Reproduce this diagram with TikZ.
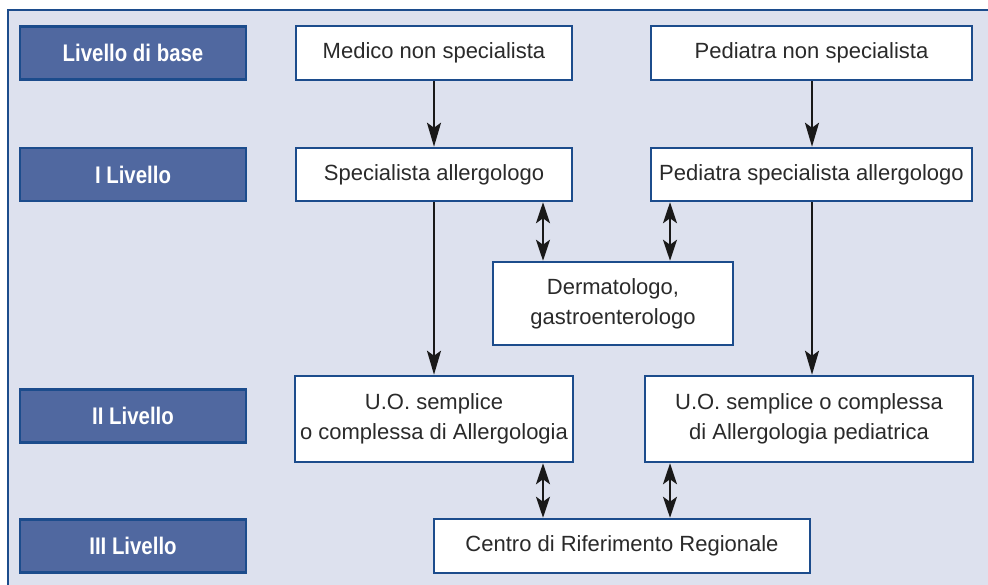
\documentclass[tikz,border=0pt]{standalone}
\usepackage{fontspec}
\setmainfont{Liberation Sans}
\newfontfamily\lvlfont{Liberation Sans}[FakeStretch=0.85]
\usetikzlibrary{arrows.meta}
\definecolor{bgc}{HTML}{DDE1EE}
\definecolor{frameblue}{HTML}{1C4C8C}
\definecolor{lvlfill}{HTML}{5068A0}
\definecolor{txt}{HTML}{2A2A2A}
\tikzset{
  lvl/.style={draw=frameblue, fill=lvlfill, line width=2.5pt, text=white,
    font=\lvlfont\bfseries\fontsize{24}{28}\selectfont, minimum width=226pt, minimum height=53pt, inner sep=0pt},
  box/.style={draw=frameblue, fill=white, line width=2.5pt, text=txt, align=center,
    font=\fontsize{22}{30}\selectfont, inner sep=0pt},
  arr/.style={line width=2.3pt, draw=black!90, -{Stealth[length=24pt,width=14pt,inset=5pt]}},
  darr/.style={line width=2.3pt, draw=black!90, {Stealth[length=21pt,width=14pt,inset=5pt]}-{Stealth[length=21pt,width=14pt,inset=5pt]}}
}
\begin{document}
\begin{tikzpicture}[x=1pt,y=-1pt]
\useasboundingbox (0,0) rectangle (988,585);
\fill[bgc] (8,10) rectangle (988,585);
\draw[frameblue, line width=2.5pt] (8,585) -- (8,10) -- (988,10);
% levels
\node[lvl] (l0) at (133,53) {Livello di base};
\node[lvl] (l1) at (133,174.5) {I Livello};
\node[lvl] (l2) at (133,416) {II Livello};
\node[lvl] (l3) at (133,546) {III Livello};
% boxes
\node[box, minimum width=276pt, minimum height=54pt] (med) at (434,53) {Medico non specialista};
\node[box, minimum width=321pt, minimum height=54pt] (ped) at (811.5,53) {Pediatra non specialista};
\node[box, minimum width=276pt, minimum height=53pt] (spec) at (434,174.5) {Specialista allergologo};
\node[box, minimum width=321pt, minimum height=53pt] (pspec) at (811.5,174.5) {Pediatra specialista allergologo};
\node[box, minimum width=240pt, minimum height=83pt] (derm) at (613,303.5) {Dermatologo,\\gastroenterologo};
\node[box, minimum width=278pt, minimum height=86pt] (uol) at (434,419) {U.O. semplice\\o complessa di Allergologia};
\node[box, minimum width=328pt, minimum height=86pt] (uor) at (809,419) {U.O. semplice o complessa\\di Allergologia pediatrica};
\node[box, minimum width=376pt, minimum height=54pt] (crr) at (622,546) {Centro di Riferimento Regionale};
% helper x positions
\coordinate (xa) at (543,0);
\coordinate (xb) at (670,0);
\coordinate (xc) at (812,0);
% arrows
\draw[arr] (med.south) -- (spec.north);
\draw[arr] (xc |- ped.south) -- (xc |- pspec.north);
\draw[arr] (spec.south) -- (uol.north);
\draw[arr] (xc |- pspec.south) -- (xc |- uor.north);
\draw[darr] (xa |- spec.south) -- (xa |- derm.north);
\draw[darr] (xb |- pspec.south) -- (xb |- derm.north);
\draw[darr] (xa |- uol.south) -- (xa |- crr.north);
\draw[darr] (xb |- uor.south) -- (xb |- crr.north);
\end{tikzpicture}
\end{document}
